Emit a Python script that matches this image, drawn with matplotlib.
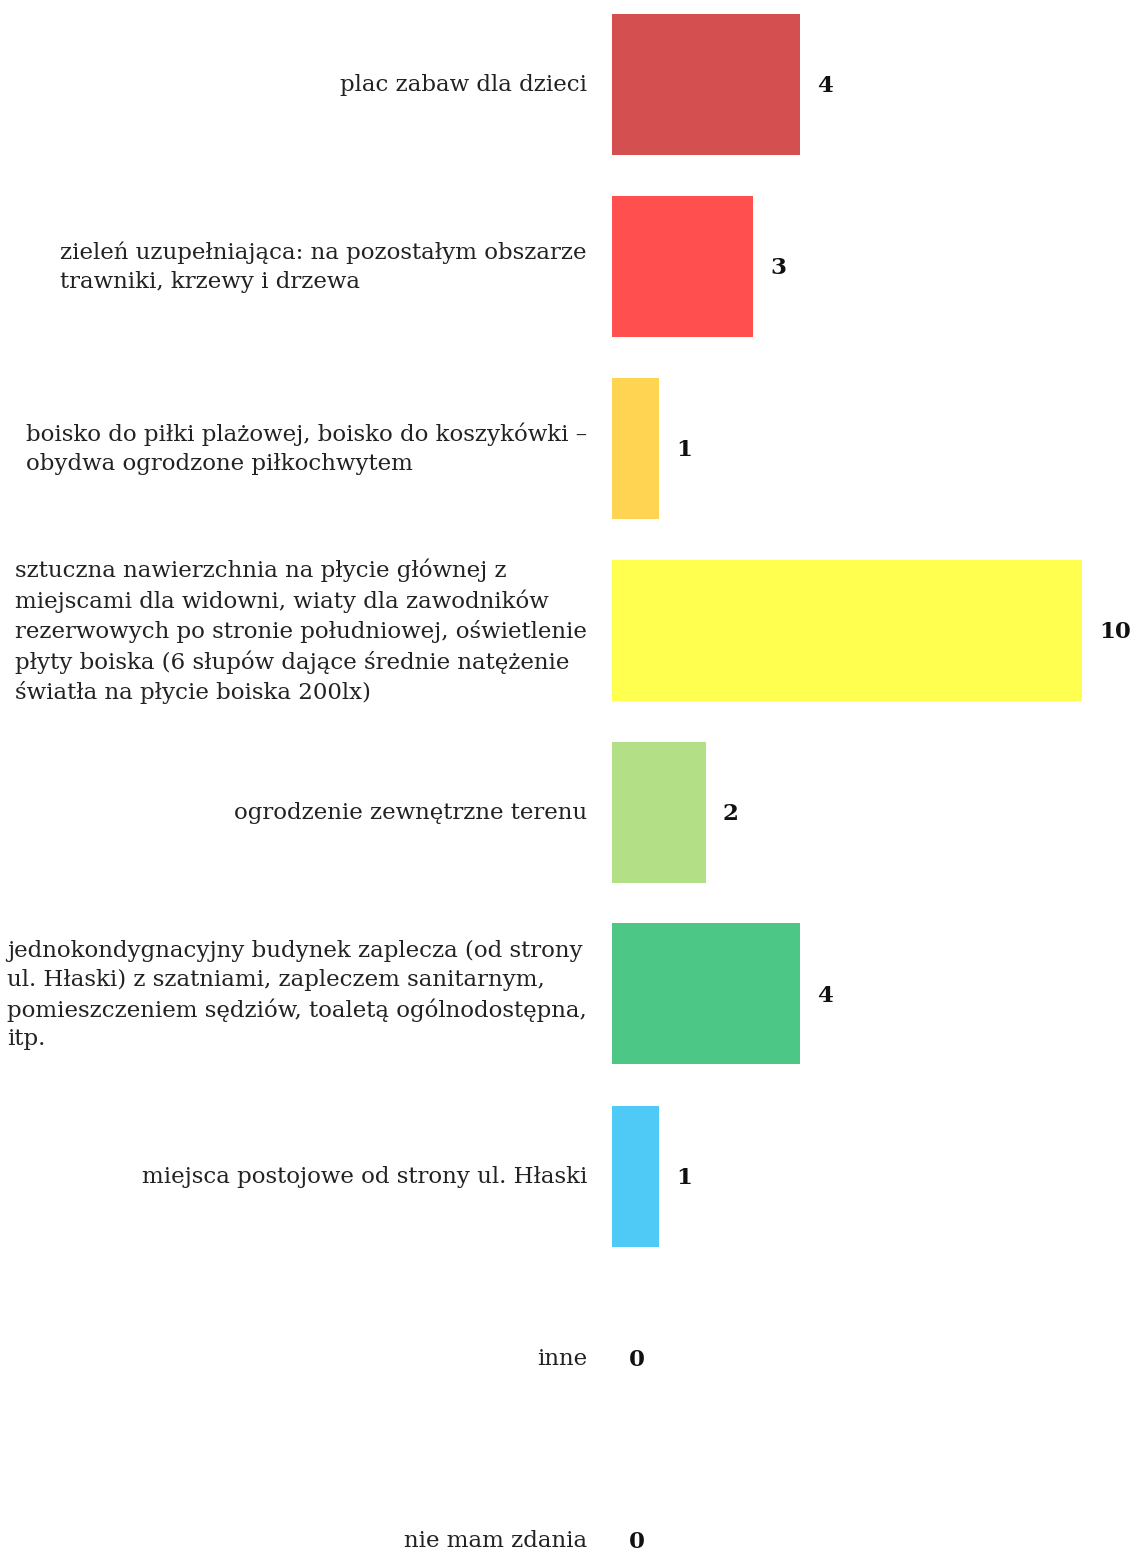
import matplotlib
matplotlib.use("Agg")
import matplotlib.pyplot as plt

categories = [
    "plac zabaw dla dzieci",
    "zieleń uzupełniająca: na pozostałym obszarze\ntrawniki, krzewy i drzewa",
    "boisko do piłki plażowej, boisko do koszykówki –\nobydwa ogrodzone piłkochwytem",
    "sztuczna nawierzchnia na płycie głównej z\nmiejscami dla widowni, wiaty dla zawodników\nrezerwowych po stronie południowej, oświetlenie\npłyty boiska (6 słupów dające średnie natężenie\nświatła na płycie boiska 200lx)",
    "ogrodzenie zewnętrzne terenu",
    "jednokondygnacyjny budynek zaplecza (od strony\nul. Hłaski) z szatniami, zapleczem sanitarnym,\npomieszczeniem sędziów, toaletą ogólnodostępna,\nitp.",
    "miejsca postojowe od strony ul. Hłaski",
    "inne",
    "nie mam zdania",
]
values = [4, 3, 1, 10, 2, 4, 1, 0, 0]
colors = ["#d44f4f", "#ff4f4f", "#ffd452", "#ffff4f", "#b3e086", "#4cc785", "#4fc9f5", "#cccccc", "#cccccc"]

W, H = 1133, 1553
fig = plt.figure(figsize=(W / 100, H / 100), dpi=100)
ax = fig.add_axes([612 / W, 0, 1 - 612 / W, 1])
px_per_unit = 47.0
ax.set_xlim(0, (W - 612) / px_per_unit)
step = 182.0
y0 = 84.0
ax.set_ylim((H - y0) / step, -y0 / step)
ax.axis("off")

font = "DejaVu Serif"
ys = list(range(len(categories)))
ax.barh(ys, values, height=141 / step, color=colors, linewidth=0)
for y, lab, v in zip(ys, categories, values):
    ax.annotate(lab, xy=(0, y), xytext=(-25, -1), textcoords="offset pixels",
                ha="right", va="center", multialignment="left", fontsize=16.5,
                family=font, color="#222222", linespacing=1.4, annotation_clip=False)
    ax.annotate(str(v), xy=(v, y), xytext=(17, -2), textcoords="offset pixels",
                ha="left", va="center", fontsize=16.5, fontweight="bold",
                family=font, color="#111111", annotation_clip=False)

fig.savefig("out.png", dpi=100)
